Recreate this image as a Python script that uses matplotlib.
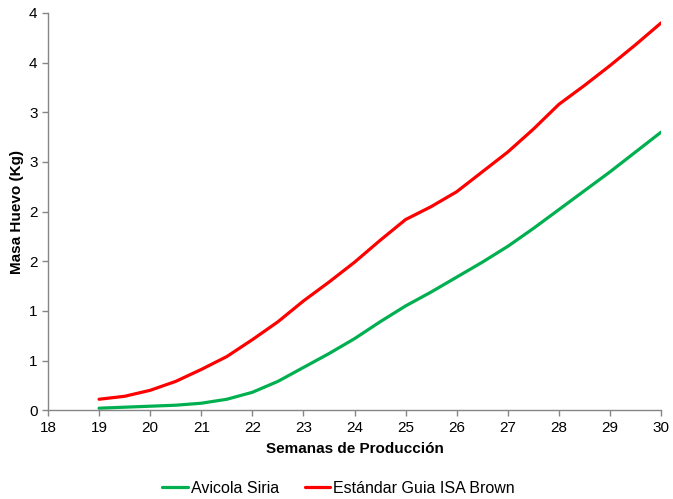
import matplotlib
matplotlib.use("Agg")
import matplotlib.pyplot as plt
from matplotlib.ticker import FuncFormatter, MultipleLocator
import math

plt.rcParams['font.family'] = ['Liberation Sans', 'DejaVu Sans']

weeks = [19, 19.5, 20, 20.5, 21, 21.5, 22, 22.5, 23, 23.5, 24, 24.5, 25, 25.5,
         26, 26.5, 27, 27.5, 28, 28.5, 29, 29.5, 30]
avicola_siria = [0.02, 0.03, 0.04, 0.05, 0.07, 0.11, 0.18, 0.29, 0.43, 0.57, 0.72,
                 0.89, 1.05, 1.19, 1.34, 1.49, 1.65, 1.83, 2.02, 2.21, 2.40, 2.60, 2.80]
estandar_isa = [0.11, 0.14, 0.20, 0.29, 0.41, 0.54, 0.71, 0.89, 1.10, 1.29, 1.49,
                1.71, 1.92, 2.05, 2.20, 2.40, 2.60, 2.83, 3.08, 3.27, 3.47, 3.68, 3.90]
series_names = ["Avicola Siria", "Estándar Guia ISA Brown"]
x_label = "Semanas de Producción"
y_label = "Masa Huevo (Kg)"

fig = plt.figure(figsize=(6.73, 4.99), dpi=100)
ax = fig.add_axes([0.0713, 0.178, 0.911, 0.796])

ax.plot(weeks, avicola_siria, color="#00B050", lw=2.3, label=series_names[0],
        solid_capstyle='round', solid_joinstyle='round')
ax.plot(weeks, estandar_isa, color="#FF0000", lw=2.3, label=series_names[1],
        solid_capstyle='round', solid_joinstyle='round')

ax.set_xlim(18, 30)
ax.set_ylim(0, 4)
ax.xaxis.set_major_locator(MultipleLocator(1))
ax.yaxis.set_major_locator(MultipleLocator(0.5))
ax.yaxis.set_major_formatter(FuncFormatter(lambda v, p: "%d" % math.floor(v + 0.5 + 1e-9)))

for s in ["top", "right"]:
    ax.spines[s].set_visible(False)
for s in ["left", "bottom"]:
    ax.spines[s].set_color("#868686")
    ax.spines[s].set_linewidth(1.0)
ax.tick_params(axis="both", colors="#868686", labelcolor="black", labelsize=11,
               direction="out", length=4, width=1)

ax.set_xlabel(x_label, fontsize=11, fontweight="bold", labelpad=5)
ax.set_ylabel(y_label, fontsize=11, fontweight="bold", labelpad=4)

leg = fig.legend(loc="lower center", bbox_to_anchor=(0.503, -0.022), ncol=2, frameon=False,
                 fontsize=11.5, handlelength=1.6, columnspacing=1.6, handletextpad=0.2)

fig.savefig("out.png", dpi=100)
